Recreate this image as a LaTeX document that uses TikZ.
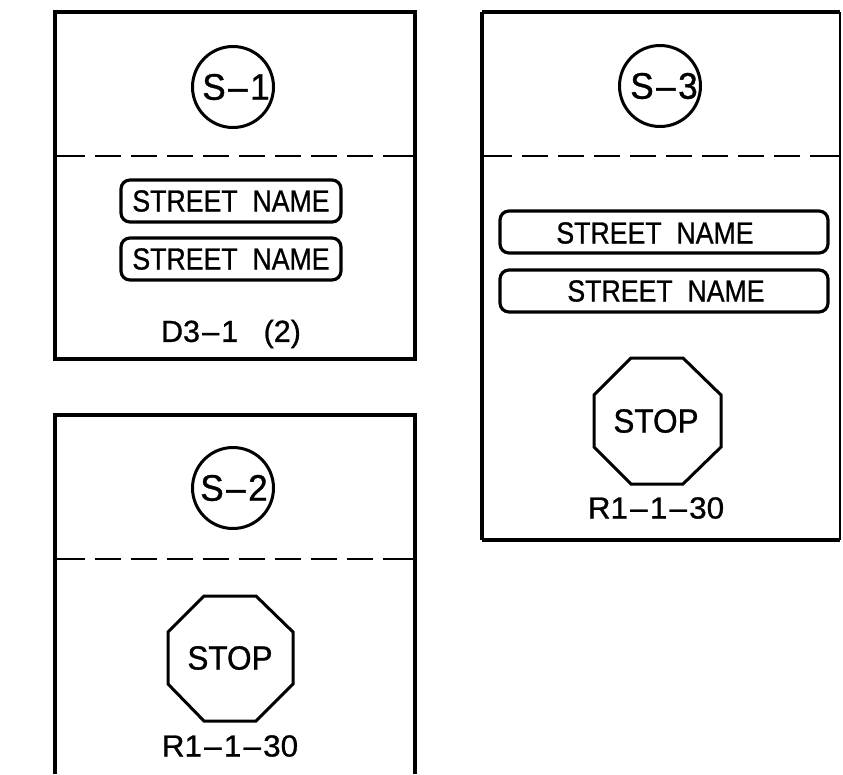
\documentclass[tikz,border=0pt]{standalone}
\usepackage{fontspec}
\setmainfont{Liberation Sans}[RawFeature={embolden=0.9}]
\usepackage{graphicx}
\newcommand{\cdash}{\kern0.07em--\kern0.07em}
\newcommand{\xsc}[2]{\scalebox{#1}[1]{#2}}
\tikzset{
  x=1pt,y=-1pt,
  frameline/.style={draw=black,line width=3.2pt},
  dashone/.style={draw=black,line width=2.4pt,dash pattern=on 30pt off 10pt on 26pt off 10pt on 26pt off 10pt on 26pt off 10pt on 26pt off 10pt on 26pt off 10pt on 26pt off 10pt on 26pt off 10pt on 26pt off 10pt on 40pt off 10pt},
  bubble/.style={circle,draw=black,line width=3pt,minimum size=81pt,inner sep=0pt},
  bubbletext/.style={font=\fontsize{37}{37}\selectfont,inner sep=0pt},
  plate/.style={rounded corners=9pt,draw=black,line width=3.2pt},
  lbl/.style={font=\fontsize{30.5}{30.5}\selectfont,inner sep=0pt},
  stoptext/.style={font=\fontsize{33.5}{33.5}\selectfont,inner sep=0pt},
  octo/.style={draw=black,line width=3pt,line join=miter}
}
\begin{document}
\begin{tikzpicture}
\useasboundingbox (0,0) rectangle (843,774);
% S-1
\draw[frameline] (55,12) rectangle (415,359);
\draw[dashone] (55,156) -- (415,156);
\node[bubble] (c1) at (233,87) {};
\node[bubbletext] (t1) at (236,87) {\xsc{0.95}{S\cdash 1}};
\draw[plate] (121,180) rectangle (341,222);
\node[lbl] (s1a) at (231,201) {\xsc{0.875}{STREET\ \ NAME}};
\draw[plate] (121,238) rectangle (341,280);
\node[lbl] (s1b) at (231,259) {\xsc{0.875}{STREET\ \ NAME}};
\node[lbl] (d1) at (231,334) {\xsc{1.0}{D3\cdash 1\ \ \ (2)}};
% S-2
\draw[frameline] (55,774) -- (55,415) -- (415,415) -- (415,774);
\draw[dashone] (55,559) -- (415,559);
\node[bubble] (c2) at (233,488) {};
\node[bubbletext] (t2) at (234,488) {\xsc{0.95}{S\cdash 2}};
\draw[octo] (204,596) -- (256,596) -- (293,632) -- (293,684) -- (256,721) -- (204,721) -- (168,684) -- (168,632) -- cycle;
\node[stoptext] (st2) at (230,658) {\xsc{0.94}{STOP}};
\node[lbl] (r2) at (230,746) {\xsc{1.03}{R1\cdash 1\cdash 30}};
% S-3
\draw[frameline] (482,12) -- (840,12) (482,540) -- (840,540) (482,12) -- (482,540);
\draw[draw=black,line width=2.5pt] (840,12) -- (840,540);
\draw[dashone] (482,156) -- (840,156);
\node[bubble] (c3) at (660,86) {};
\node[bubbletext] (t3) at (664,86) {\xsc{0.95}{S\cdash 3}};
\draw[plate] (500,211) rectangle (828,253);
\node[lbl] (s3a) at (655,233) {\xsc{0.875}{STREET\ \ NAME}};
\draw[plate] (500,270) rectangle (828,312);
\node[lbl] (s3b) at (666,291) {\xsc{0.875}{STREET\ \ NAME}};
\draw[octo] (631,358) -- (683,358) -- (721,395) -- (721,447) -- (683,484) -- (631,484) -- (594,447) -- (594,395) -- cycle;
\node[stoptext] (st3) at (656,421) {\xsc{0.94}{STOP}};
\node[lbl] (r3) at (656,508) {\xsc{1.03}{R1\cdash 1\cdash 30}};
\end{tikzpicture}
\end{document}
